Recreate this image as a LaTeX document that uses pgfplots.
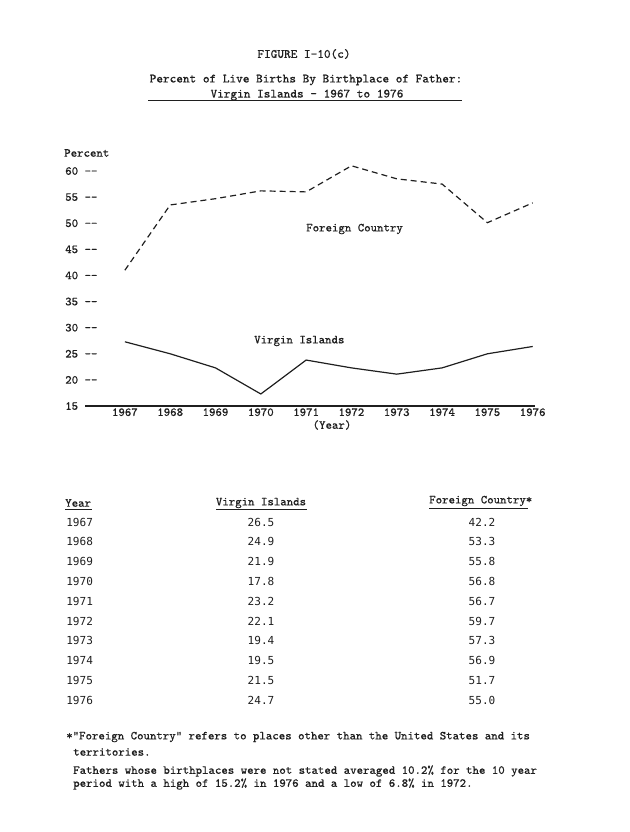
\documentclass[border=0pt]{standalone}
\usepackage{fontspec}
\usepackage{pgfplots}
\pgfplotsset{compat=1.18}
\newfontfamily\gothic{DejaVu Sans Mono}
\newfontfamily\typew{Latin Modern Mono}[FakeBold=0.4]
\newcommand\tw{\typew\fontsize{9.2}{11}\selectfont}
\newcommand\ttl{\typew\fontsize{9.5}{11}\selectfont}
\newcommand\tn{\gothic\fontsize{8.3}{10}\selectfont}
\definecolor{ink}{gray}{0.12}

\begin{document}
\begin{tikzpicture}
% page in pixel units (1px = 0.75pt), y downwards
\begin{scope}[x=0.75pt,y=-0.75pt,every node/.style={inner sep=0pt,text=ink}]
  \path (0,0) rectangle (630,832);
  % titles
  \node[font=\ttl] at (304,54) {FIGURE I-10(c)};
  \node[font=\ttl] at (306,80) {Percent of Live Births By Birthplace of Father:};
  \node[font=\ttl] at (307,95) {Virgin Islands - 1967 to 1976};
  \draw[ink,line width=0.7pt] (148,100) -- (462,100);
  % chart labels
  \node[font=\tw,anchor=west] at (64,153) {Percent};
  \node[font=\tw,anchor=west] at (306,229) {Foreign Country};
  \node[font=\tw,anchor=west] at (254,341) {Virgin Islands};
  \node[font=\tw] at (332,425) {(Year)};
  % table headers
  \node[font=\tw,anchor=west] at (65,503) {Year};
  \node[font=\tw] at (261,503) {Virgin Islands};
  \node[font=\tw,anchor=west] at (429,501) {Foreign Country*};
  \draw[ink,line width=0.6pt] (65,509) -- (92,509);
  \draw[ink,line width=0.6pt] (216,509) -- (307,509);
  \draw[ink,line width=0.6pt] (429,508) -- (528,508);
  % table rows
  \foreach \yr/\vi/\fc [count=\i from 0] in {1967/26.5/42.2, 1968/24.9/53.3,
      1969/21.9/55.8, 1970/17.8/56.8, 1971/23.2/56.7, 1972/22.1/59.7,
      1973/19.4/57.3, 1974/19.5/56.9, 1975/21.5/51.7, 1976/24.7/55.0}{
    \node[font=\tn,anchor=west] at (66,522+19.8*\i) {\yr};
    \node[font=\tn] at (261,522+19.8*\i) {\vi};
    \node[font=\tn] at (482,522+19.8*\i) {\fc};
  }
  % notes
  \node[font=\tw,anchor=west] at (66,737) {*"Foreign Country" refers to places other than the United States and its};
  \node[font=\tw,anchor=west] at (73,752) {territories.};
  \node[font=\tw,anchor=west] at (73,771) {Fathers whose birthplaces were not stated averaged 10.2\% for the 10 year};
  \node[font=\tw,anchor=west] at (73,784) {period with a high of 15.2\% in 1976 and a low of 6.8\% in 1972.};
\end{scope}

\begin{axis}[
  at={(63.75pt,-304.5pt)}, anchor=south west,
  scale only axis, width=337.5pt, height=176.25pt,
  xmin=1966.12, xmax=1976.05, ymin=15, ymax=60,
  clip=false,
  axis x line=bottom, axis y line=left,
  axis line style={-},
  y axis line style={draw=none},
  x axis line style={line width=1.1pt,ink},
  tick style={draw=none}, major tick length=0pt,
  xtick={1967,...,1976},
  xticklabels={1967,1968,1969,1970,1971,1972,1973,1974,1975,1976},
  ytick={15,20,...,60},
  yticklabels={15,20 -{}-,25 -{}-,30 -{}-,35 -{}-,40 -{}-,45 -{}-,50 -{}-,55 -{}-,60 -{}-},
  ticklabel style={font=\tw,text=ink},
  xticklabel style={anchor=north,inner sep=0pt,yshift=-1.5pt},
  yticklabel style={anchor=west,inner sep=0pt,xshift=-15pt},
]
  % Foreign Country
  \addplot[ink, line width=0.9pt, dash pattern=on 4.5pt off 3pt] coordinates {
    (1967,41.0) (1968,53.5) (1969,54.7) (1970,56.2) (1971,56.0)
    (1972,61.0) (1973,58.5) (1974,57.5) (1975,50.1) (1976,53.9)};
  % Virgin Islands
  \addplot[ink, line width=0.9pt] coordinates {
    (1967,27.3) (1968,25.0) (1969,22.3) (1970,17.3) (1971,23.8)
    (1972,22.3) (1973,21.1) (1974,22.3) (1975,25.0) (1976,26.4)};
\end{axis}
\end{tikzpicture}
\end{document}
